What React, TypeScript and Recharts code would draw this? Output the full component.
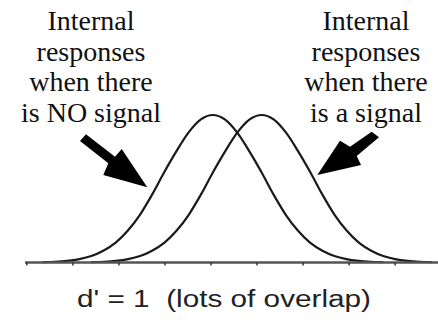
import React from 'react';
import { LineChart, Line, XAxis, YAxis } from 'recharts';

// offsets from each curve's peak, in tick units
const offsets = [
  -3.7, -3.43, -3.17, -2.9, -2.64, -2.38, -2.11, -1.85, -1.58, -1.32, -1.06, -0.79, -0.53, -0.26, 0,
  0.26, 0.53, 0.79, 1.06, 1.32, 1.58, 1.85, 2.11, 2.38, 2.64, 2.9, 3.17, 3.43, 3.7,
];
// curve height at each offset, % of the peak
const heights = [
  0.2, 0.5, 1.1, 2.3, 4.4, 8, 13.5, 21.5, 32.5, 46, 61, 75.5, 88, 97, 100,
  97, 88, 75.5, 61, 46, 32.5, 21.5, 13.5, 8, 4.4, 2.3, 1.1, 0.5, 0.2,
];
const noSignalPeak = 0.04;
const signalPeak = 1.1;
const ticks = [-4, -3, -2, -1, 0, 1, 2, 3, 4];

const leftLabel = ['Internal', 'responses', 'when there', 'is NO signal'];
const rightLabel = ['Internal', 'responses', 'when there', 'is a signal'];
const caption = "d' = 1  (lots of overlap)";

const noSignal = offsets.map((o, i) => ({ x: noSignalPeak + o, y: heights[i] }));
const withSignal = offsets.map((o, i) => ({ x: signalPeak + o, y: heights[i] }));

const baselines = [30, 60.5, 91, 121.5];
const labelStyle = { fontFamily: "'Liberation Serif', 'Liberation Sans', Arial, sans-serif" };
const sansStyle = { fontFamily: "'Liberation Sans', Arial, sans-serif", whiteSpace: 'pre' as const };

const App = () => {
  return (
    <div style={{ position: 'absolute', left: 0, top: 0, width: 438, height: 320, background: '#fff' }}>
      <LineChart width={438} height={320} margin={{ top: 115, right: 0, left: 25, bottom: 47.5 }}>
        <XAxis
          type="number"
          dataKey="x"
          domain={[-4.04, 4.93]}
          ticks={ticks}
          height={10}
          axisLine={{ stroke: '#555', strokeWidth: 2.5 }}
          tickLine={{ stroke: '#333', strokeWidth: 1.5 }}
          tickSize={3}
          tickFormatter={() => ''}
          allowDataOverflow
        />
        <YAxis hide width={0} domain={[0, 100]} />
        <Line
          data={noSignal}
          dataKey="y"
          type="monotone"
          stroke="#1a1a1a"
          strokeWidth={2.2}
          dot={false}
          isAnimationActive={false}
        />
        <Line
          data={withSignal}
          dataKey="y"
          type="monotone"
          stroke="#1a1a1a"
          strokeWidth={2.2}
          dot={false}
          isAnimationActive={false}
        />
      </LineChart>
      <svg
        width={438}
        height={320}
        style={{ position: 'absolute', left: 0, top: 0, pointerEvents: 'none' }}
      >
        {leftLabel.map((t, i) => (
          <text key={'l' + i} x={91} y={baselines[i]} textAnchor="middle" style={labelStyle} fontSize={28} fill="#111">
            {t}
          </text>
        ))}
        {rightLabel.map((t, i) => (
          <text key={'r' + i} x={366} y={baselines[i]} textAnchor="middle" style={labelStyle} fontSize={28} fill="#111">
            {t}
          </text>
        ))}
        <polygon
          points="86,134.3 115,156.7 121.7,149 147.3,187.3 103.3,175 108.3,163.3 80,141"
          fill="#000"
        />
        <polygon
          points="371.7,131.7 350,146.7 340,140.7 317.3,175 361,165 356.7,156 379,137.3"
          fill="#000"
        />
        <text
          x={77}
          y={307}
          style={sansStyle}
          fontSize={23}
          fill="#222"
          textLength={294}
          lengthAdjust="spacingAndGlyphs"
        >
          {caption}
        </text>
      </svg>
    </div>
  );
};

export default App;
